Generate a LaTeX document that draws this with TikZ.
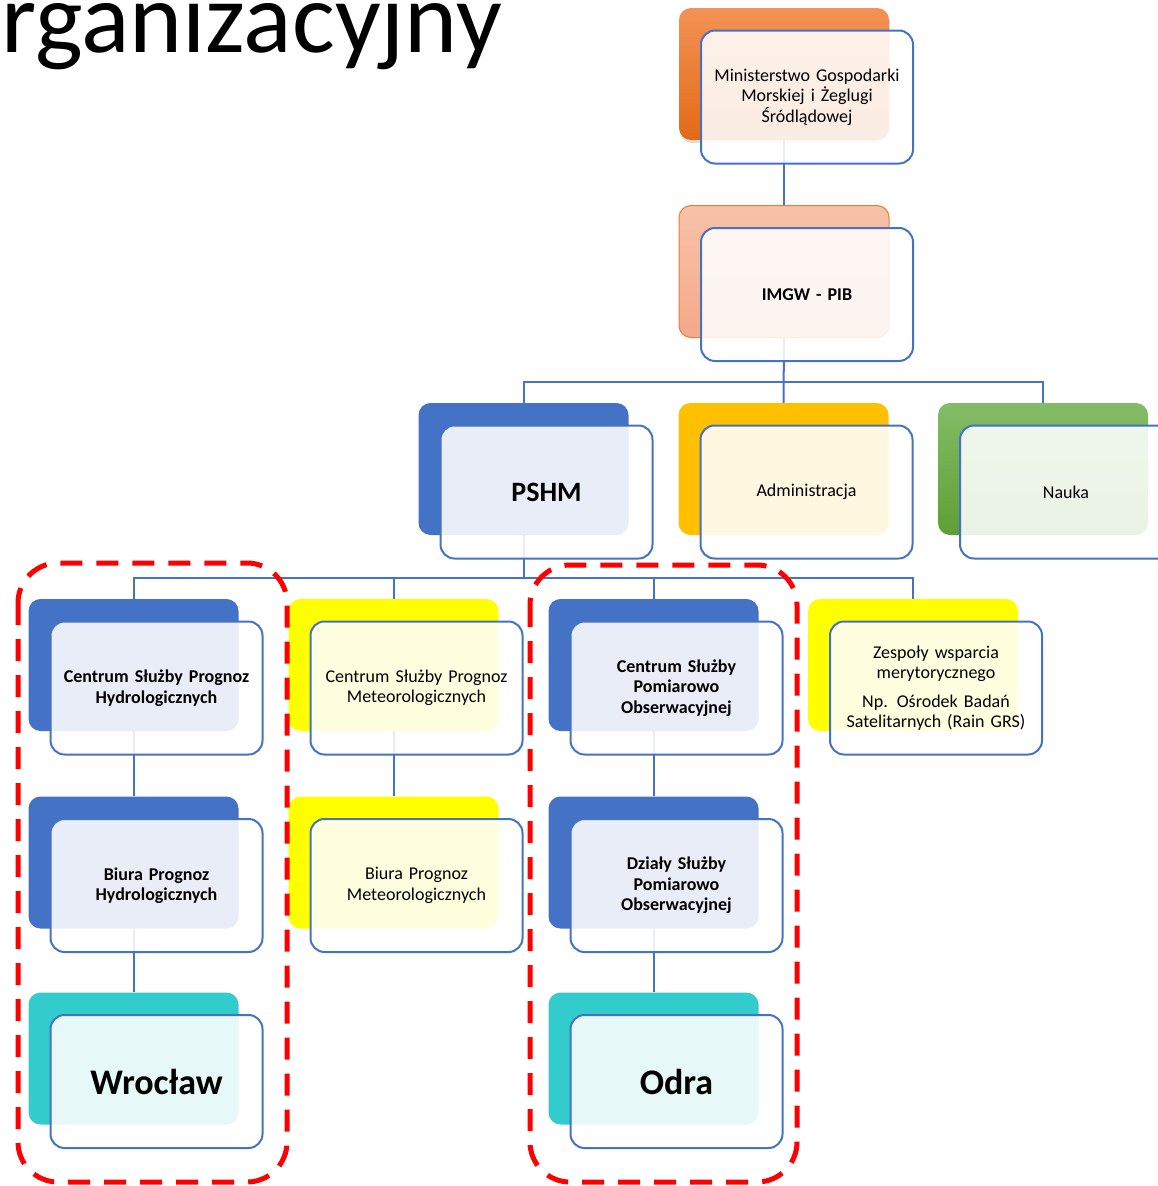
\documentclass[tikz,border=0pt]{standalone}
\usepackage{fontspec}
\setmainfont{Carlito}
\usetikzlibrary{shadows}
\definecolor{linkblue}{HTML}{4472C4}
\definecolor{orangetop}{HTML}{F39256}
\definecolor{orangebot}{HTML}{E36A16}
\definecolor{salmontop}{HTML}{F7C2A9}
\definecolor{salmonbot}{HTML}{F4A98A}
\definecolor{salmonline}{HTML}{ED7D31}
\definecolor{admgold}{HTML}{FFC000}
\definecolor{greentop}{HTML}{84BC66}
\definecolor{greenbot}{HTML}{5E9F35}
\definecolor{meteoyel}{HTML}{FFFF00}
\definecolor{cityteal}{HTML}{33CCCC}
\newcommand{\boxfont}{\fontsize{18}{20.5}\selectfont}
\tikzset{
  back/.style={rounded corners=12pt, minimum width=210pt, minimum height=132pt, inner sep=0pt},
  front/.style={draw=linkblue, line width=2pt, rounded corners=14pt, fill=white, fill opacity=0.88,
    text opacity=1, minimum width=212pt, minimum height=133pt, text width=205pt, align=center,
    inner sep=0pt, font=\boxfont, text=black},
  link/.style={draw=linkblue, line width=2pt},
  zone/.style={draw=red, line width=5pt, dash pattern=on 22pt off 14pt, rounded corners=40pt}
}
\begin{document}
\begin{tikzpicture}[x=1pt, y=-1pt]
\clip (0,0) rectangle (1158,1186);
\fill[white] (0,0) rectangle (1158,1186);
% title
\node[anchor=base east, inner sep=0pt, font=\fontsize{101}{112}\selectfont] (title) at (502,52) {organizacyjny};
% back cards
\node[back] (min) at (784,74) {};
\node[back] (imgw) at (784,271.5) {};
\node[back] (pshm) at (523.5,469) {};
\node[back] (adm) at (783.5,469) {};
\node[back] (nauka) at (1043,469) {};
\node[back] (csph) at (133.5,665) {};
\node[back] (cspm) at (393.5,665) {};
\node[back] (cspo) at (653.5,665) {};
\node[back] (zesp) at (913,665) {};
\node[back] (bph) at (133.5,862.5) {};
\node[back] (bpm) at (393.5,862.5) {};
\node[back] (dspo) at (653.5,862.5) {};
\node[back] (wro) at (133.5,1058.5) {};
\node[back] (odra) at (653.5,1058.5) {};
% connectors
\draw[link] (min.south) -- (imgw.north);
\draw[link] (imgw.south) -- (adm.north);
\draw[link] (pshm.north) -- ++(0,-21) -| (nauka.north);
\draw[link] (pshm.south) -- ++(0,43);
\draw[link] (csph.north) -- ++(0,-21) -| (zesp.north);
\draw[link] (cspm.north) -- ++(0,-21);
\draw[link] (cspo.north) -- ++(0,-21);
\draw[link] (csph.south) -- (bph.north);
\draw[link] (bph.south) -- (wro.north);
\draw[link] (cspm.south) -- (bpm.north);
\draw[link] (cspo.south) -- (dspo.north);
\draw[link] (dspo.south) -- (odra.north);
% coloured cards
\node[back, top color=orangetop, bottom color=orangebot,
  drop shadow={opacity=0.25, shadow xshift=1pt, shadow yshift=-3pt}] at (min) {};
\node[back, top color=salmontop, bottom color=salmonbot, draw=salmonline, line width=1pt] at (imgw) {};
\node[back, fill=linkblue] at (pshm) {};
\node[back, fill=admgold] at (adm) {};
\node[back, top color=greentop, bottom color=greenbot] at (nauka) {};
\node[back, fill=linkblue] at (csph) {};
\node[back, fill=meteoyel] at (cspm) {};
\node[back, fill=linkblue] at (cspo) {};
\node[back, fill=meteoyel] at (zesp) {};
\node[back, fill=linkblue] at (bph) {};
\node[back, fill=meteoyel] at (bpm) {};
\node[back, fill=linkblue] at (dspo) {};
\node[back, fill=cityteal] at (wro) {};
\node[back, fill=cityteal] at (odra) {};
% front cards
\node[front] (minf) at ([shift={(23,23)}]min.center) {Ministerstwo Gospodarki\\Morskiej i Żeglugi\\Śródlądowej};
\node[front, font=\boxfont\bfseries] (imgwf) at ([shift={(23,23)}]imgw.center) {IMGW - PIB};
\node[front, font=\fontsize{28}{32}\selectfont\bfseries] (pshmf) at ([shift={(23,23)}]pshm.center) {PSHM};
\node[front] (admf) at ([shift={(23,23)}]adm.center) {Administracja};
\node[front] (naukaf) at ([shift={(23,23)}]nauka.center) {Nauka};
\node[front, font=\boxfont\bfseries] (csphf) at ([shift={(23,23)}]csph.center) {Centrum Służby Prognoz\\Hydrologicznych};
\node[front] (cspmf) at ([shift={(23,23)}]cspm.center) {Centrum Służby Prognoz\\Meteorologicznych};
\node[front, font=\boxfont\bfseries] (cspof) at ([shift={(23,23)}]cspo.center) {Centrum Służby\\Pomiarowo\\Obserwacyjnej};
\node[front] (zespf) at ([shift={(23,23)}]zesp.center) {Zespoły wsparcia\\merytorycznego\\[8pt]Np. Ośrodek Badań\\Satelitarnych (Rain GRS)};
\node[front, font=\boxfont\bfseries] (bphf) at ([shift={(23,23)}]bph.center) {Biura Prognoz\\Hydrologicznych};
\node[front] (bpmf) at ([shift={(23,23)}]bpm.center) {Biura Prognoz\\Meteorologicznych};
\node[front, font=\boxfont\bfseries] (dspof) at ([shift={(23,23)}]dspo.center) {Działy Służby\\Pomiarowo\\Obserwacyjnej};
\node[front, font=\fontsize{36}{40}\selectfont\bfseries] (wrof) at ([shift={(23,23)}]wro.center) {Wrocław};
\node[front, font=\fontsize{36}{40}\selectfont\bfseries] (odraf) at ([shift={(23,23)}]odra.center) {Odra};
% dashed groups
\draw[zone] (18,563) rectangle (287,1182);
\draw[zone] (530,565) rectangle (797,1182);
\end{tikzpicture}
\end{document}
